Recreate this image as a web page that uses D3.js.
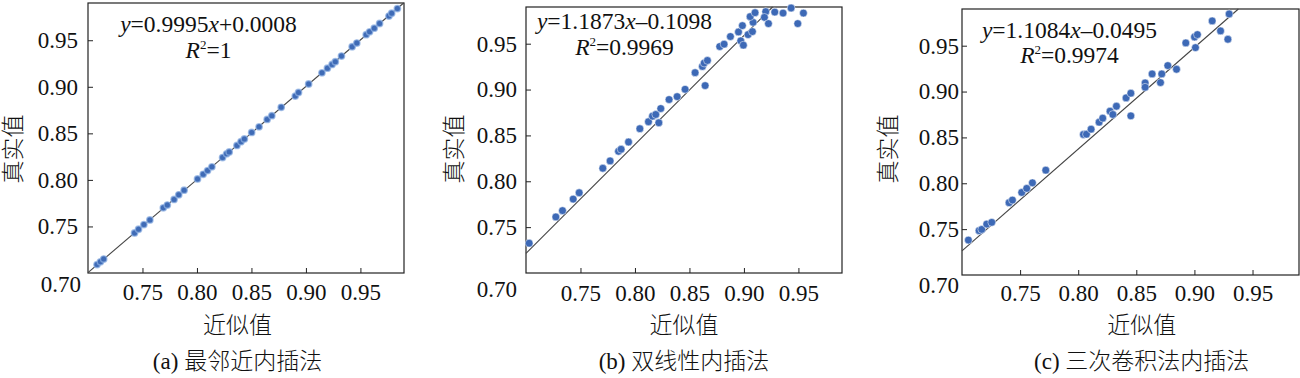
<!DOCTYPE html>
<html>
<head>
<meta charset="utf-8">
<script src="https://cdn.jsdelivr.net/npm/d3@7"></script>
<style>
  body { margin: 0; background: #fff; }
  text { fill: #111; }
</style>
</head>
<body>
<svg id="chart" width="1300" height="378"></svg>
<script>
// (a) nearest neighbour
const nearestX = [0.7083, 0.7114, 0.7144, 0.7427, 0.7464, 0.7513, 0.7568, 0.7691, 0.7728, 0.7790,
  0.7833, 0.7882, 0.8005, 0.8057, 0.8097, 0.8137, 0.8235, 0.8272, 0.8296, 0.8367, 0.8404, 0.8435,
  0.8502, 0.8570, 0.8644, 0.8687, 0.8773, 0.8902, 0.8932, 0.9025, 0.9147, 0.9197, 0.9240, 0.9270,
  0.9326, 0.9424, 0.9467, 0.9553, 0.9584, 0.9627, 0.9676, 0.9762, 0.9787, 0.9839];
const nearestY = [0.7090, 0.7120, 0.7150, 0.7430, 0.7470, 0.7520, 0.7570, 0.7700, 0.7730, 0.7790,
  0.7840, 0.7890, 0.8010, 0.8060, 0.8100, 0.8140, 0.8240, 0.8280, 0.8300, 0.8370, 0.8410, 0.8440,
  0.8510, 0.8570, 0.8650, 0.8690, 0.8780, 0.8900, 0.8940, 0.9030, 0.9150, 0.9200, 0.9240, 0.9270,
  0.9330, 0.9430, 0.9470, 0.9560, 0.9590, 0.9630, 0.9680, 0.9760, 0.9790, 0.9840];

// (b) bilinear
const bilinearX = [0.7029, 0.7274, 0.7335, 0.7433, 0.7488, 0.7705, 0.7772, 0.7849, 0.7873, 0.7941,
  0.8045, 0.8124, 0.8161, 0.8191, 0.8237, 0.8219, 0.8313, 0.8387, 0.8460, 0.8552, 0.8619, 0.8635,
  0.8665, 0.8644, 0.8778, 0.8818, 0.8876, 0.8950, 0.8986, 0.8971, 0.8995, 0.9038, 0.9078, 0.9084,
  0.9057, 0.9102, 0.9200, 0.9188, 0.9225, 0.9283, 0.9359, 0.9433, 0.9494, 0.9546];
const bilinearY = [0.7325, 0.7611, 0.7680, 0.7806, 0.7875, 0.8142, 0.8222, 0.8327, 0.8349, 0.8428,
  0.8573, 0.8649, 0.8710, 0.8728, 0.8793, 0.8638, 0.8891, 0.8923, 0.9003, 0.9184, 0.9252, 0.9289,
  0.9317, 0.9043, 0.9469, 0.9495, 0.9578, 0.9628, 0.9697, 0.9531, 0.9484, 0.9599, 0.9632, 0.9733,
  0.9795, 0.9838, 0.9849, 0.9787, 0.9719, 0.9845, 0.9834, 0.9889, 0.9719, 0.9834];

// (c) cubic convolution
const cubicX = [0.7055, 0.7147, 0.7170, 0.7213, 0.7256, 0.7405, 0.7434, 0.7514, 0.7557, 0.7606,
  0.7721, 0.8045, 0.8071, 0.8111, 0.8180, 0.8211, 0.8274, 0.8329, 0.8298, 0.8412, 0.8453, 0.8453,
  0.8576, 0.8576, 0.8636, 0.8708, 0.8719, 0.8771, 0.8846, 0.8926, 0.9001, 0.9026, 0.9009, 0.9153,
  0.9225, 0.9288, 0.9299];
const cubicY = [0.7381, 0.7483, 0.7497, 0.7555, 0.7574, 0.7788, 0.7817, 0.7900, 0.7944, 0.8005,
  0.8143, 0.8532, 0.8535, 0.8590, 0.8666, 0.8710, 0.8786, 0.8840, 0.8750, 0.8931, 0.8982, 0.8735,
  0.9094, 0.9047, 0.9192, 0.9098, 0.9192, 0.9283, 0.9243, 0.9530, 0.9595, 0.9621, 0.9479, 0.9770,
  0.9661, 0.9570, 0.9846];

const fitSlope = [0.9995, 1.1873, 1.1084];
const fitIntercept = [0.0008, -0.1098, -0.0495];
const eqCoef = ["=0.9995", "=1.1873", "=1.1084"];
const eqConst = ["+0.0008", "–0.1098", "–0.0495"];
const r2Text = ["=1", "=0.9969", "=0.9974"];
const captions = ["(a) 最邻近内插法", "(b) 双线性内插法", "(c) 三次卷积法内插法"];
const tickVals = [0.75, 0.80, 0.85, 0.90, 0.95];
const cornerLabel = "0.70";
const xTitle = "近似值";
const yTitle = "真实值";

const series = [
  {x: nearestX, y: nearestY},
  {x: bilinearX, y: bilinearY},
  {x: cubicX, y: cubicY}
];

const layout = [
  {x0: 88, x1: 404, y0: 3, y1: 273, padY: 10, padX: 11, corner: [-7, 19], eq: [208.5, 32, 58], titleX: 237.5, yTitleX: 13},
  {x0: 526, x1: 842, y0: 7, y1: 273, padY: 9, padX: 11.5, corner: [-9, 24], eq: [624.5, 29, 54.5], titleX: 684, yTitleX: 454},
  {x0: 962, x1: 1299, y0: 9, y1: 275, padY: 3, padX: 9.5, corner: [-3, 17.7], eq: [1069.5, 37.7, 63.3], titleX: 1141.7, yTitleX: 888}
];

const serif = "'Liberation Serif', 'Times New Roman', serif";
const cjk = "'Liberation Serif', 'Noto Sans CJK SC', serif";
const domain = [0.70, 0.99];

const svg = d3.select('#chart');

layout.forEach(function(L, i) {
  let xScale = d3.scaleLinear().domain(domain).range([L.x0, L.x1]);
  let yScale = d3.scaleLinear().domain(domain).range([L.y1, L.y0]);
  let g = svg.append('g');

  // axes with inward ticks
  let xAxis = g.append('g')
    .attr('transform', 'translate(0,' + L.y1 + ')')
    .call(d3.axisBottom(xScale).tickValues(tickVals).tickFormat(d3.format('.2f'))
      .tickSizeInner(-5).tickSizeOuter(0).tickPadding(L.padX));
  let yAxis = g.append('g')
    .attr('transform', 'translate(' + L.x0 + ',0)')
    .call(d3.axisLeft(yScale).tickValues(tickVals).tickFormat(d3.format('.2f'))
      .tickSizeInner(-5).tickSizeOuter(0).tickPadding(L.padY));
  [xAxis, yAxis].forEach(function(ax) {
    ax.attr('font-family', null).attr('font-size', null);
    ax.select('.domain').remove();
    ax.selectAll('line').attr('stroke', '#222');
    ax.selectAll('text').style('font-family', serif).style('font-size', '23px').attr('fill', '#111');
  });

  // shared corner label
  g.append('text')
    .attr('x', xScale(0.70) + L.corner[0])
    .attr('y', yScale(0.70) + L.corner[1])
    .attr('text-anchor', 'end')
    .style('font-family', serif).style('font-size', '23px')
    .text(cornerLabel);

  // frame
  g.append('rect')
    .attr('x', L.x0).attr('y', L.y0)
    .attr('width', L.x1 - L.x0).attr('height', L.y1 - L.y0)
    .attr('fill', 'none').attr('stroke', '#222').attr('stroke-width', 1.2);

  // fit line, clipped to plot box
  let a = fitSlope[i], b = fitIntercept[i];
  let xa = Math.max(domain[0], (domain[0] - b) / a);
  let xb = Math.min(domain[1], (domain[1] - b) / a);
  g.append('line')
    .attr('x1', xScale(xa)).attr('y1', yScale(a * xa + b))
    .attr('x2', xScale(xb)).attr('y2', yScale(a * xb + b))
    .attr('stroke', '#444').attr('stroke-width', 1.1);

  // points
  let pts = series[i].x.map(function(d, k) { return [d, series[i].y[k]]; });
  let dots = g.append('g').selectAll('circle')
    .data(pts).enter().append('circle')
    .attr('cx', d => xScale(d[0]))
    .attr('cy', d => yScale(d[1]));
  if (i === 0) {
    dots.attr('r', 3.2).attr('fill', '#3f6bb6')
      .attr('stroke', '#8fb0e2').attr('stroke-opacity', 0.7).attr('stroke-width', 1.4);
  } else {
    dots.attr('r', 3.9).attr('fill', '#3d69b6')
      .attr('stroke', '#fff').attr('stroke-width', 0.5);
  }

  // equation
  let eq1 = g.append('text')
    .attr('x', L.eq[0]).attr('y', L.eq[1])
    .attr('text-anchor', 'middle')
    .style('font-family', serif).style('font-size', '23.5px');
  eq1.append('tspan').style('font-style', 'italic').text('y');
  eq1.append('tspan').text(eqCoef[i]);
  eq1.append('tspan').style('font-style', 'italic').text('x');
  eq1.append('tspan').text(eqConst[i]);

  let eq2 = g.append('text')
    .attr('x', L.eq[0]).attr('y', L.eq[2])
    .attr('text-anchor', 'middle')
    .style('font-family', serif).style('font-size', '23.5px');
  eq2.append('tspan').style('font-style', 'italic').text('R');
  eq2.append('tspan').attr('dy', -9).style('font-size', '13px').text('2');
  eq2.append('tspan').attr('dy', 9).text(r2Text[i]);

  // axis titles
  g.append('text')
    .attr('x', L.titleX).attr('y', 325)
    .attr('text-anchor', 'middle').attr('dominant-baseline', 'central')
    .style('font-family', cjk).style('font-size', '23px').style('font-weight', 300)
    .text(xTitle);
  g.append('text')
    .attr('transform', 'translate(' + L.yTitleX + ',149) rotate(-90)')
    .attr('text-anchor', 'middle').attr('dominant-baseline', 'central')
    .style('font-family', cjk).style('font-size', '23px').style('font-weight', 300)
    .text(yTitle);

  // caption
  g.append('text')
    .attr('x', L.titleX).attr('y', 361)
    .attr('text-anchor', 'middle').attr('dominant-baseline', 'central')
    .style('font-family', cjk).style('font-size', '23px').style('font-weight', 300)
    .text(captions[i]);
});
</script>
</body>
</html>
